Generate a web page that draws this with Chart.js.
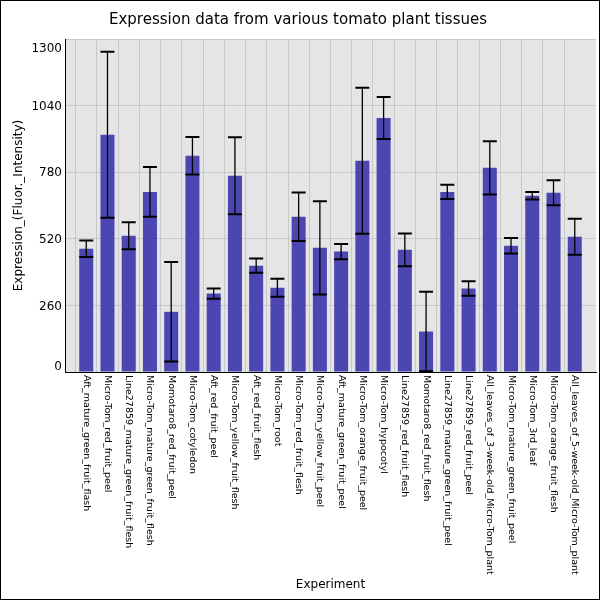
<!DOCTYPE html>
<html>
<head>
<meta charset="utf-8">
<script src="https://cdn.jsdelivr.net/npm/chart.js@4.4.1/dist/chart.umd.min.js"></script>
<style>
  body { margin: 0; background: #fff; }
  #wrap { width: 600px; height: 600px; }
</style>
</head>
<body>
<div id="wrap"><canvas id="exprChart" width="600" height="600"></canvas></div>
<script>
var experiments = [
    "Aft_mature_green_fruit_flash",
    "Micro-Tom_red_fruit_peel",
    "Line27859_mature_green_fruit_flesh",
    "Micro-Tom_mature_green_fruit_flesh",
    "Momotaro8_red_fruit_peel",
    "Micro-Tom_cotyledon",
    "Aft_red_fruit_peel",
    "Micro-Tom_yellow_fruit_flesh",
    "Aft_red_fruit_flesh",
    "Micro-Tom_root",
    "Micro-Tom_red_fruit_flesh",
    "Micro-Tom_yellow_fruit_peel",
    "Aft_mature_green_fruit_peel",
    "Micro-Tom_orange_fruit_peel",
    "Micro-Tom_hypocotyl",
    "Line27859_red_fruit_flesh",
    "Momotaro8_red_fruit_flesh",
    "Line27859_mature_green_fruit_peel",
    "Line27859_red_fruit_peel",
    "All_leaves_of_3-week-old_Micro-Tom_plant",
    "Micro-Tom_mature_green_fruit_peel",
    "Micro-Tom_3rd_leaf",
    "Micro-Tom_orange_fruit_flesh",
    "All_leaves_of_5-week-old_Micro-Tom_plant"
];
var expression = [481, 926, 532, 703, 235, 844, 306, 766, 415, 329, 606, 485,
                  470, 825, 992, 477, 158, 703, 326, 797, 493, 688, 700, 528];
var errors = [32, 324, 53, 97, 194, 73, 20, 150, 28, 35, 95, 182,
              30, 285, 82, 64, 155, 28, 28, 104, 30, 15, 49, 70];
var yTicks = [0, 260, 520, 780, 1040, 1300];

var FONT = "'DejaVu Sans', sans-serif";

// grey plot area + white page + outer frame
var backgroundPlugin = {
    id: 'background',
    beforeDraw: function(chart) {
        var ctx = chart.ctx, a = chart.chartArea;
        ctx.save();
        ctx.fillStyle = '#ffffff';
        ctx.fillRect(0, 0, chart.width, chart.height);
        ctx.fillStyle = '#e5e5e5';
        ctx.fillRect(a.left, a.top, a.right - a.left, a.bottom - a.top);
        ctx.restore();
    },
    afterDraw: function(chart) {
        var ctx = chart.ctx;
        ctx.save();
        ctx.strokeStyle = '#000';
        ctx.lineWidth = 1;
        ctx.strokeRect(0.5, 0.5, chart.width - 1, chart.height - 1);
        ctx.restore();
    }
};

var errorBarPlugin = {
    id: 'errorBars',
    afterDatasetsDraw: function(chart) {
        var ctx = chart.ctx;
        var yScale = chart.scales.y;
        var meta = chart.getDatasetMeta(0);
        ctx.save();
        ctx.strokeStyle = '#000';
        meta.data.forEach(function(bar, i) {
            var x = bar.x;
            var top = yScale.getPixelForValue(expression[i] + errors[i]);
            var bot = yScale.getPixelForValue(expression[i] - errors[i]);
            ctx.lineWidth = 1.3;
            ctx.beginPath();
            ctx.moveTo(x, top);
            ctx.lineTo(x, bot);
            ctx.stroke();
            ctx.lineWidth = 2;
            ctx.beginPath();
            ctx.moveTo(x - 7, top);
            ctx.lineTo(x + 7, top);
            ctx.moveTo(x - 7, bot);
            ctx.lineTo(x + 7, bot);
            ctx.stroke();
        });
        ctx.restore();
    }
};

// x labels read top to bottom, y labels kept inside the plot edges
var labelPlugin = {
    id: 'tickLabels',
    afterDraw: function(chart) {
        var ctx = chart.ctx;
        var xScale = chart.scales.x, yScale = chart.scales.y;
        ctx.save();
        ctx.fillStyle = '#000';
        ctx.font = '9.5px ' + FONT;
        ctx.textAlign = 'left';
        ctx.textBaseline = 'middle';
        experiments.forEach(function(name, i) {
            ctx.save();
            ctx.translate(xScale.getPixelForValue(i), xScale.top + 3);
            ctx.rotate(Math.PI / 2);
            ctx.fillText(name, 0, 0);
            ctx.restore();
        });
        ctx.font = '12px ' + FONT;
        ctx.textAlign = 'right';
        yTicks.forEach(function(v) {
            var y = yScale.getPixelForValue(v);
            y = Math.max(yScale.top + 9, Math.min(yScale.bottom - 6, y));
            ctx.fillText(String(v), yScale.right - 3, y + 1);
        });
        ctx.restore();
    }
};

function pageLoad() {
    var ctx = document.getElementById("exprChart");
    var points = expression.map(function(v, i) { return {x: i, y: v}; });

    var exprChart = new Chart(ctx, {
        type: 'bar',
        data: {
            datasets: [{
                label: 'Expression',
                data: points,
                backgroundColor: 'rgb(75, 70, 178)',
                borderWidth: 0,
                barPercentage: 0.66,
                categoryPercentage: 1.0
            }]
        },
        options: {
            responsive: false,
            animation: false,
            devicePixelRatio: 1,
            layout: { padding: { top: 0, right: 4, bottom: 0, left: 0 } },
            plugins: {
                legend: { display: false },
                tooltip: { enabled: false },
                title: {
                    display: true,
                    text: 'Expression data from various tomato plant tissues',
                    color: '#000',
                    font: { family: FONT, size: 15, weight: 'normal' },
                    padding: { top: 11, bottom: 10 }
                }
            },
            scales: {
                x: {
                    type: 'linear',
                    min: -1,
                    max: 24,
                    offset: false,
                    afterFit: function(scale) { scale.height = 228; },
                    ticks: { display: false, stepSize: 1, maxTicksLimit: 100 },
                    grid: {
                        drawTicks: false,
                        lineWidth: 1,
                        color: function(c) {
                            if (c.tick && (c.tick.value === -1 || c.tick.value === 24)) return 'rgba(0,0,0,0)';
                            return '#c8c8c8';
                        }
                    },
                    border: { color: '#000', width: 1 },
                    title: {
                        display: true,
                        text: 'Experiment',
                        color: '#000',
                        font: { family: FONT, size: 12 },
                        padding: { top: 0, bottom: 8 }
                    }
                },
                y: {
                    min: 0,
                    max: 1300,
                    afterFit: function(scale) { scale.width = 65; },
                    ticks: { display: false, stepSize: 260 },
                    grid: {
                        drawTicks: false,
                        lineWidth: 1,
                        color: function(c) {
                            if (c.tick && c.tick.value === 0) return 'rgba(0,0,0,0)';
                            return '#c8c8c8';
                        }
                    },
                    border: { color: '#000', width: 1 },
                    title: {
                        display: true,
                        text: 'Expression_(Fluor._Intensity)',
                        color: '#000',
                        font: { family: FONT, size: 12 },
                        padding: { top: 12, bottom: 0 }
                    }
                }
            }
        },
        plugins: [backgroundPlugin, errorBarPlugin, labelPlugin]
    });
}

window.onload = pageLoad;
</script>
</body>
</html>
